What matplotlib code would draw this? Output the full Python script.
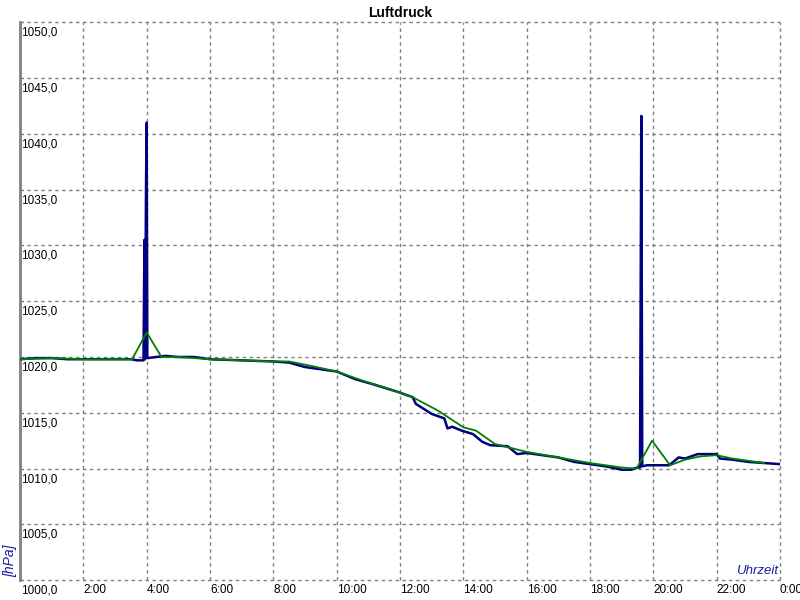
import matplotlib
matplotlib.use('Agg')
import matplotlib.pyplot as plt
import matplotlib.transforms as mtrans

# raw pressure (hours, hPa)
t_raw = [0.0, 0.5, 1.0, 1.5, 2.0, 2.5, 3.0, 3.5, 3.7, 3.9, 3.93, 3.95, 3.98, 4.0,
         4.02, 4.3, 4.6, 5.0, 5.5, 6.0, 7.0, 8.0, 8.5, 9.0, 9.5, 10.0, 10.6, 11.1,
         11.9, 12.4, 12.5, 13.0, 13.4, 13.5, 13.65, 13.95, 14.3, 14.6, 14.85, 15.4,
         15.7, 16.0, 16.5, 17.0, 17.5, 18.0, 18.5, 19.0, 19.3, 19.5, 19.58, 19.6,
         19.62, 19.65, 19.8, 20.0, 20.5, 20.8, 21.0, 21.4, 21.8, 22.0, 22.1, 22.5,
         23.0, 23.5, 24.0]
p_raw = [1019.8, 1019.9, 1019.9, 1019.8, 1019.8, 1019.8, 1019.8, 1019.8, 1019.7,
         1019.7, 1030.5, 1019.8, 1035.5, 1041.0, 1019.9, 1020.0, 1020.1, 1020.0,
         1020.0, 1019.8, 1019.7, 1019.6, 1019.5, 1019.1, 1018.9, 1018.7, 1018.0,
         1017.6, 1016.9, 1016.4, 1015.8, 1014.9, 1014.5, 1013.6, 1013.75, 1013.4,
         1013.1, 1012.4, 1012.1, 1012.0, 1011.3, 1011.4, 1011.2, 1011.0, 1010.6,
         1010.4, 1010.2, 1009.9, 1009.9, 1010.1, 1010.1, 1025.8, 1041.6, 1010.2,
         1010.3, 1010.3, 1010.3, 1011.0, 1010.9, 1011.3, 1011.3, 1011.3, 1010.9,
         1010.8, 1010.6, 1010.5, 1010.4]

# smoothed pressure
t_avg = [0, 1, 2, 3, 3.54, 4.0, 4.47, 5, 6, 7, 8, 8.5, 9.2, 10.0, 10.8, 11.7, 12.4,
         13.2, 14.0, 14.4, 15.0, 16.0, 17.0, 18.0, 19.0, 19.47, 19.96, 20.53, 21.0,
         21.5, 22.0, 22.5, 23.0, 23.5]
p_avg = [1019.8, 1019.9, 1019.8, 1019.8, 1019.8, 1022.2, 1020.0, 1020.0, 1019.8,
         1019.7, 1019.6, 1019.6, 1019.2, 1018.7, 1017.9, 1017.1, 1016.4, 1015.2,
         1013.7, 1013.4, 1012.2, 1011.5, 1011.0, 1010.5, 1010.1, 1010.0, 1012.5,
         1010.3, 1010.8, 1011.1, 1011.2, 1010.9, 1010.7, 1010.5]

x_ticks = list(range(2, 25, 2))
x_labels = [f'{h % 24}:00' for h in x_ticks]
y_ticks = list(range(1005, 1051, 5))
y_labels = [f'{v},0' for v in y_ticks]

plt.rcParams['font.family'] = ['Liberation Sans', 'DejaVu Sans']
fig = plt.figure(figsize=(8, 6), dpi=100)
ax = fig.add_axes([0.025, 0.033, 0.95, 0.93])

ax.plot(t_raw, p_raw, color='#000080', lw=1.8, zorder=3)
ax.plot(t_avg, p_avg, color='#008000', lw=1.3, zorder=4)

ax.set_xlim(0, 24); ax.set_ylim(1000, 1050)
ax.set_xticks(x_ticks)
ax.set_xticklabels(x_labels, ha='left', fontsize=8.5)
ax.set_yticks([1000] + y_ticks)
ax.set_yticklabels([])
ax.tick_params(length=0, pad=3)
ax.grid(True, color='#808080', lw=1, ls=(0, (2.5, 2.5)))
for gl in ax.get_xgridlines() + ax.get_ygridlines():
    gl.set_clip_on(False)
for s in ['top', 'right', 'bottom']:
    ax.spines[s].set_visible(False)
ax.spines['left'].set_color('#808080'); ax.spines['left'].set_linewidth(2)

# y labels sit inside the plot, just under each gridline
tr = mtrans.blended_transform_factory(ax.transAxes, ax.transData)
for v, lab in zip(y_ticks, y_labels):
    ax.text(0.002, v - 0.4, lab, transform=tr, ha='left', va='top', fontsize=8.5)
ax.text(0.002, -0.007, '1000,0', transform=ax.transAxes, ha='left', va='top', fontsize=8.5)

ax.set_title('Luftdruck', fontsize=10, fontweight='bold', pad=4)
fig.text(0.013, 0.065, '[hPa]', rotation=90, style='italic', color='#1a1aa6',
         fontsize=10, ha='center', va='center')
ax.text(0.998, 0.005, 'Uhrzeit', transform=ax.transAxes, style='italic',
        color='#1a1aa6', fontsize=9.5, ha='right', va='bottom')

plt.savefig('out.png', dpi=100)
plt.close()
